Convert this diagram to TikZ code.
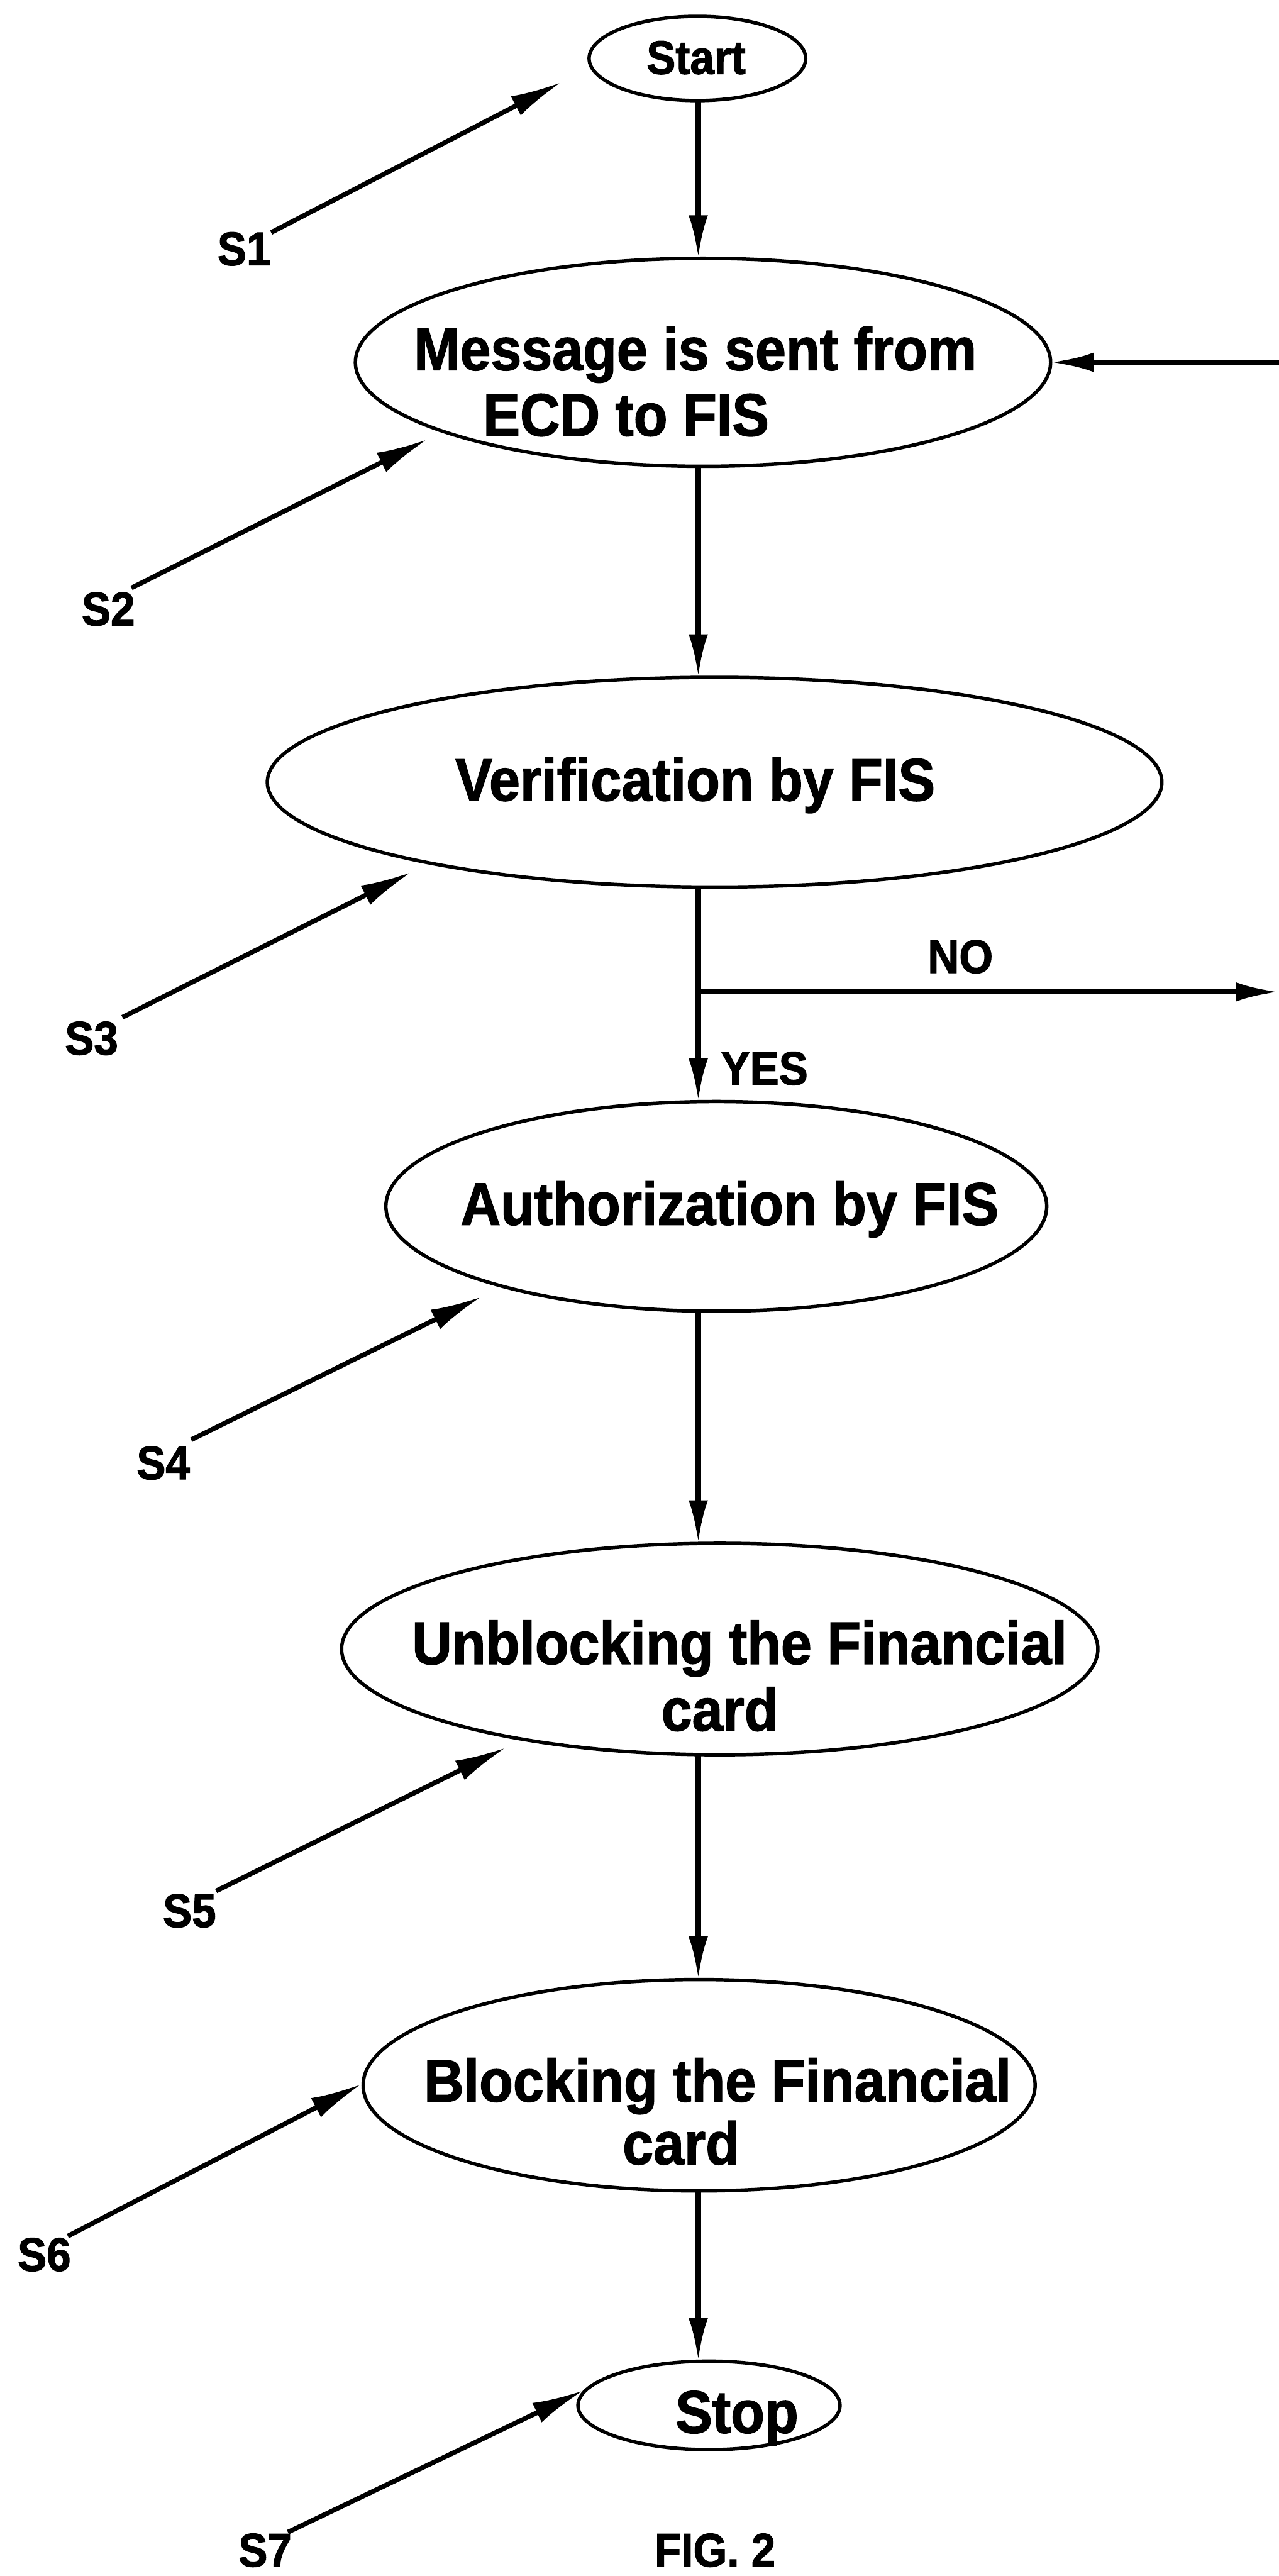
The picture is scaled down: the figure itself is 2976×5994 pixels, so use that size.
\documentclass[tikz,border=0pt]{standalone}
\usepackage{fontspec}
\setmainfont{Liberation Sans}[FakeStretch=0.92,BoldFeatures={FakeBold=1.5}]
\usetikzlibrary{shapes.geometric,arrows.meta}
\begin{document}
\begin{tikzpicture}[x=0.1pt,y=-0.1pt,
  el/.style={ellipse,draw,line width=0.8pt,inner sep=0pt,outer sep=0pt},
  conn/.style={line width=1.2pt},
  arr/.style={line width=1.2pt,-{Latex[length=10pt,width=4.5pt]}},
  sarr/.style={line width=1.1pt,-{Latex[length=12pt,width=5pt]}},
  txt/.style={font=\fontsize{14pt}{15.5pt}\selectfont\bfseries,inner sep=0pt,anchor=base},
  sml/.style={font=\fontsize{11pt}{12pt}\selectfont\bfseries,inner sep=0pt,anchor=base}]
\useasboundingbox (0,0) rectangle (2976,5994);
\fill[white] (0,0) rectangle (2976,5994);

% ellipses
\node[el,minimum width=50.4pt,minimum height=19.6pt] (start) at (1623,136) {};
\node[el,minimum width=161.8pt,minimum height=48.4pt] (msg) at (1636,843) {};
\node[el,minimum width=208.2pt,minimum height=48.8pt] (ver) at (1663,1820) {};
\node[el,minimum width=153.8pt,minimum height=48.8pt] (auth) at (1667,2807) {};
\node[el,minimum width=176pt,minimum height=49.2pt] (unb) at (1675,3837) {};
\node[el,minimum width=156.4pt,minimum height=49.2pt] (blk) at (1627,4852) {};
\node[el,minimum width=61pt,minimum height=20.6pt] (stop) at (1650,5597) {};

% texts
\node[sml] (tstart) at (1620,172) {Start};
\node[txt] (tmsg1) at (1618,861) {Message is sent from};
\node[txt] (tmsg2) at (1457,1014) {ECD to FIS};
\node[txt] (tver) at (1618,1863) {Verification by FIS};
\node[txt] (tauth) at (1698,2850) {Authorization by FIS};
\node[txt] (tunb1) at (1721,3872) {Unblocking the Financial};
\node[txt] (tunb2) at (1675,4027) {card};
\node[txt] (tblk1) at (1670,4890) {Blocking the Financial};
\node[txt] (tblk2) at (1585,5036) {card};
\node[txt] (tstop) at (1715,5661) {Stop};
\node[sml] (tno) at (2235,2264) {NO};
\node[sml] (tyes) at (1779,2524) {YES};
\node[sml] (fig) at (1664,5972) {FIG. 2};

% step labels
\node[sml] (s1) at (568,617) {S1};
\node[sml] (s2) at (252,1455) {S2};
\node[sml] (s3) at (213,2454) {S3};
\node[sml] (s4) at (380,3442) {S4};
\node[sml] (s5) at (441,4484) {S5};
\node[sml] (s6) at (103,5284) {S6};
\node[sml] (s7) at (617,5972) {S7};

% coordinates
\coordinate (X) at (1625,0);
\coordinate (br) at (1625,2308);
\coordinate (noend) at (2976,2308);
\coordinate (loopin) at (2976,843);
\coordinate (s1a) at (631,541);  \coordinate (s1b) at (1307,191);
\coordinate (s2a) at (306,1368); \coordinate (s2b) at (995,1022);
\coordinate (s3a) at (285,2367); \coordinate (s3b) at (958,2029);
\coordinate (s4a) at (445,3350); \coordinate (s4b) at (1121,3017);
\coordinate (s5a) at (503,4400); \coordinate (s5b) at (1178,4066);
\coordinate (s6a) at (158,5203); \coordinate (s6b) at (842,4849);
\coordinate (s7a) at (670,5892); \coordinate (s7b) at (1358,5562);

% flow connectors
\draw[arr] (start.south -| X) -- (msg.north -| X);
\draw[arr] (msg.south -| X) -- (ver.north -| X);
\draw[conn] (ver.south -| X) -- (br);
\draw[arr] (br) -- (auth.north -| X);
\draw[arr] (br) -- (noend);
\draw[arr] (auth.south -| X) -- (unb.north -| X);
\draw[arr] (unb.south -| X) -- (blk.north -| X);
\draw[arr] (blk.south -| X) -- (stop.north -| X);
\draw[arr] (loopin) -- (msg.east);

% step leaders
\draw[sarr] (s1a) -- (s1b);
\draw[sarr] (s2a) -- (s2b);
\draw[sarr] (s3a) -- (s3b);
\draw[sarr] (s4a) -- (s4b);
\draw[sarr] (s5a) -- (s5b);
\draw[sarr] (s6a) -- (s6b);
\draw[sarr] (s7a) -- (s7b);
\end{tikzpicture}
\end{document}
